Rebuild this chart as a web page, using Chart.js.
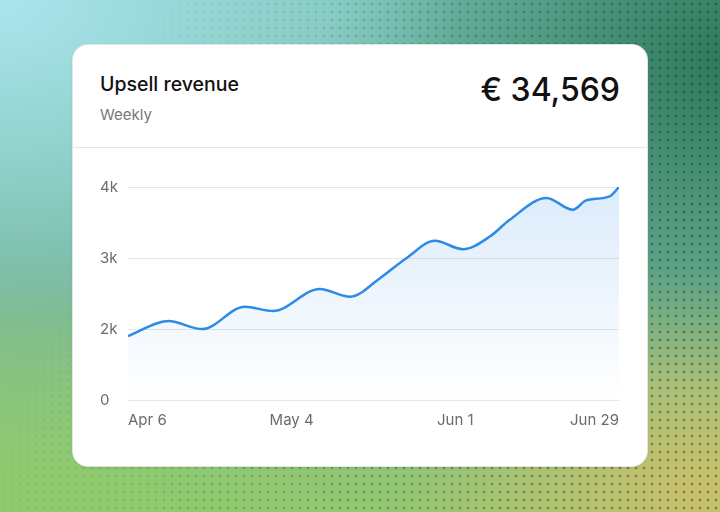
<!DOCTYPE html>
<html>
<head>
<meta charset="utf-8">
<script src="https://cdn.jsdelivr.net/npm/chart.js@4.4.1/dist/chart.umd.min.js"></script>
<style>
  html, body { margin:0; padding:0; }
  body {
    width:720px; height:512px; overflow:hidden; position:relative;
    font-family: Inter, "Noto Sans", sans-serif;
    background:
      radial-gradient(ellipse 460px 320px at 0px 0px, #aae4ec 0%, rgba(170,228,236,0) 100%),
      radial-gradient(ellipse 420px 330px at 740px 60px, #2c7658 0%, rgba(44,118,88,0) 100%),
      radial-gradient(ellipse 300px 220px at 700px 490px, #cbc06c 0%, rgba(203,192,108,0) 100%),
      radial-gradient(ellipse 420px 240px at 60px 530px, #8ecc6c 0%, rgba(142,204,108,0) 100%),
      linear-gradient(180deg, #7cc4b8 0%, #76b8a0 50%, #96c672 100%);
  }
  .dots {
    position:absolute; inset:0;
    background-image: radial-gradient(circle, rgba(10,50,25,0.45) 1.1px, rgba(10,50,25,0) 1.7px);
    background-size: 8px 8px;
    -webkit-mask-image: linear-gradient(110deg, rgba(0,0,0,0) 15%, rgba(0,0,0,0.6) 55%, #000 90%);
            mask-image: linear-gradient(110deg, rgba(0,0,0,0) 15%, rgba(0,0,0,0.6) 55%, #000 90%);
  }
  .card {
    position:absolute; left:72px; top:44px; width:574px; height:421px;
    background:#fff; border-radius:16px;
    border:1px solid rgba(0,0,0,0.10);
    box-shadow: 0 1px 3px rgba(0,0,0,0.08);
  }
  .title { position:absolute; left:27px; top:27px; font-size:19.5px; font-weight:500; color:#111; line-height:24px; }
  .sub { position:absolute; left:27px; top:60px; font-size:15px; color:#777; line-height:20px; }
  .value { position:absolute; right:27px; top:25px; font-size:32px; font-weight:500; color:#111; line-height:40px; }
  .divider { position:absolute; left:0; right:0; top:102px; height:1px; background:#e4e4e4; }
  .chartbox { position:absolute; left:27px; top:127px; width:522px; height:260px; }
</style>
</head>
<body>
<div class="dots"></div>
<div class="card">
  <div class="title">Upsell revenue</div>
  <div class="sub">Weekly</div>
  <div class="value">€ 34,569</div>
  <div class="divider"></div>
  <div class="chartbox"><canvas id="c"></canvas></div>
</div>
<script>
// Days since Apr 6 and revenue values
const days   = [0, 6.9, 12.7, 20, 24.8, 32.8, 38, 43.1, 47.6, 52.5, 57.3, 61.9, 65.3, 71.6, 76.1, 78.4, 82.4, 84];
const revenue = [1900, 2112, 1999, 2314, 2253, 2564, 2455, 2715, 2997, 3242, 3124, 3302, 3538, 3845, 3679, 3811, 3867, 4000];
const xTickDays = [0, 28, 56, 84];
const xTickLabels = ['Apr 6', 'May 4', 'Jun 1', 'Jun 29'];
const yTickValues = [1000, 2000, 3000, 4000];
const yTickLabels = ['0', '2k', '3k', '4k'];

const points = days.map((d, i) => ({ x: d, y: revenue[i] }));
const tickFont = { family: 'Inter, "Noto Sans", sans-serif', size: 15 };

new Chart(document.getElementById('c'), {
  type: 'line',
  data: {
    datasets: [{
      data: points,
      borderColor: '#2d8ae5',
      borderWidth: 2.5,
      pointRadius: 0,
      cubicInterpolationMode: 'monotone',
      fill: 'start',
      backgroundColor: (ctx) => {
        const ca = ctx.chart.chartArea;
        if (!ca) return 'rgba(45,138,229,0.1)';
        const g = ctx.chart.ctx.createLinearGradient(0, ca.top, 0, ca.bottom);
        g.addColorStop(0, 'rgba(45,138,229,0.17)');
        g.addColorStop(1, 'rgba(45,138,229,0.0)');
        return g;
      }
    }]
  },
  options: {
    responsive: true,
    maintainAspectRatio: false,
    animation: false,
    layout: { padding: { top: 15, right: 0, left: 0, bottom: 0 } },
    plugins: { legend: { display: false }, tooltip: { enabled: false } },
    scales: {
      x: {
        type: 'linear', min: 0, max: 84,
        afterBuildTicks: (axis) => { axis.ticks = xTickDays.map(v => ({ value: v })); },
        ticks: {
          align: 'inner', color: '#6b6b6b', font: tickFont, padding: 3, maxRotation: 0,
          callback: (v) => { const i = xTickDays.indexOf(v); return i >= 0 ? xTickLabels[i] : ''; }
        },
        grid: { display: false },
        border: { display: false }
      },
      y: {
        type: 'linear', min: 1000, max: 4000,
        afterBuildTicks: (axis) => { axis.ticks = yTickValues.map(v => ({ value: v })); },
        afterFit: (axis) => { axis.width = 28; },
        ticks: {
          crossAlign: 'far', color: '#6b6b6b', font: tickFont, padding: 0,
          callback: (v) => { const i = yTickValues.indexOf(v); return i >= 0 ? yTickLabels[i] : ''; }
        },
        grid: { color: '#e6e6e6', lineWidth: 1, drawTicks: false },
        border: { display: false }
      }
    }
  }
});
</script>
</body>
</html>
